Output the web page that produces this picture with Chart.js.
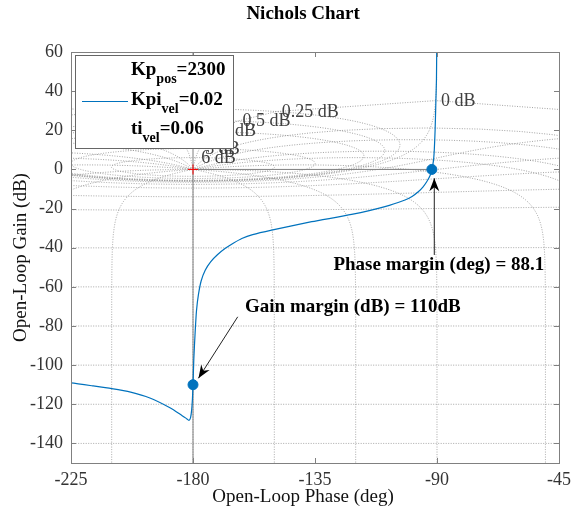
<!DOCTYPE html>
<html>
<head>
<meta charset="utf-8">
<title>Nichols Chart</title>
<script src="https://cdn.jsdelivr.net/npm/chart.js@4.4.0/dist/chart.umd.min.js"></script>
<style>
  html, body { margin: 0; padding: 0; background: #fff; }
</style>
</head>
<body>
<canvas id="nichols" width="573" height="517"></canvas>
<script>
// open-loop response, from the top (low freq) to the left end
const phaseDeg = [-90.1, -90.2, -90.4, -90.7, -91.0, -91.3, -91.9, -92.5, -93.8, -95.2,
  -96.9, -99.2, -101.8, -109.2, -121.5, -136.2, -151.0, -158.0, -162.0, -165.0,
  -168.2, -171.0, -173.5, -175.5, -177.0, -178.0, -178.7, -179.2, -179.7, -180.0,
  -180.2, -180.5, -180.9, -181.5, -182.5, -184.0, -188.5, -195.9, -203.0, -210.0,
  -217.0, -225.0, -230.0];
const gainDb = [62, 46, 35.5, 20, 10, 4.5, 0, -3, -6.3, -9,
  -11.4, -13.8, -15.6, -19.0, -23.0, -26.7, -31.0, -33.3, -35.3, -37.6,
  -40.4, -43.6, -47.2, -51.5, -57, -64, -72, -83, -97, -110,
  -117, -123, -126.8, -128.2, -127.2, -125.8, -121.8, -116.8, -113.8, -112,
  -110.6, -109.1, -108.5];

// stability margin markers
const marginPhase = [-180, -91.9];
const marginGain = [-110, 0];

const xTicks = [-225, -180, -135, -90, -45];
const yTicks = [-140, -120, -100, -80, -60, -40, -20, 0, 20, 40, 60];

// nichols grid (closed-loop gain in dB, closed-loop phase in deg)
const gridGainDb = [6, 3, 1, 0.5, 0.25, 0, -1, -3, -6, -12, -20, -40, -60, -80, -100, -120, -140, -160];
const gridPhaseDeg = [-1, -5, -10, -20, -30, -50, -90, -120, -150, -180, -210, -240, -270, -310, -330, -340, -350, -355, -359];
const gridLabels = ["6 dB", "3 dB", "1 dB", "0.5 dB", "0.25 dB", "0 dB"];
const gridLabelPhase = [-177.0, -175.5, -169.5, -161.7, -147.3, -88.5];
const gridLabelGain = [5.6, 10.5, 19.6, 24.7, 29.3, 34.7];

const legendRows = [["Kp", "pos", "=2300"], ["Kpi", "vel", "=0.02"], ["ti", "vel", "=0.06"]];

const SERIF = "'Liberation Serif', 'Times New Roman', serif";
const BLUE = "#0072BD";
const NB = "\u00A0";

function loopFromClosed(tr, ti) {
  // L = T / (1 - T)
  const dr = 1 - tr, di = -ti;
  const den = dr * dr + di * di;
  return [(tr * dr + ti * di) / den, (ti * dr - tr * di) / den];
}

function gainContour(db) {
  const m = Math.pow(10, db / 20);
  const pts = [];
  const n = 1440;
  for (let i = 1; i < n; i++) {
    const th = 2 * Math.PI * i / n;
    const [lr, li] = loopFromClosed(m * Math.cos(th), m * Math.sin(th));
    let ph = Math.atan2(li, lr) * 180 / Math.PI;
    if (ph > 0) ph -= 360;
    pts.push([ph, 20 * Math.log10(Math.hypot(lr, li))]);
  }
  return pts;
}

function phaseContour(deg) {
  const phi = deg * Math.PI / 180;
  const pts = [];
  let prev = deg;
  for (let k = -640; k <= 640; k++) {
    const r = Math.pow(10, k / 80);
    const [lr, li] = loopFromClosed(r * Math.cos(phi), r * Math.sin(phi));
    let ph = Math.atan2(li, lr) * 180 / Math.PI;
    while (ph - prev > 180) ph -= 360;
    while (ph - prev < -180) ph += 360;
    prev = ph;
    pts.push([ph, 20 * Math.log10(Math.hypot(lr, li))]);
  }
  return pts;
}

const nicholsGrid = {
  id: "nicholsGrid",
  beforeDatasetsDraw(chart) {
    const { ctx, chartArea: a, scales: { x, y } } = chart;
    ctx.save();
    ctx.beginPath();
    ctx.rect(a.left, a.top, a.right - a.left, a.bottom - a.top);
    ctx.clip();
    ctx.strokeStyle = "#8c8c8c";
    ctx.lineWidth = 0.8;
    ctx.setLineDash([1, 1.5]);
    const curves = gridGainDb.map(gainContour).concat(gridPhaseDeg.map(phaseContour));
    curves.forEach(pts => {
      ctx.beginPath();
      let pen = false;
      pts.forEach(([p, g]) => {
        if (!isFinite(g) || g > 300 || g < -300) { pen = false; return; }
        const px = x.getPixelForValue(p), py = y.getPixelForValue(g);
        if (pen) ctx.lineTo(px, py); else ctx.moveTo(px, py);
        pen = true;
      });
      ctx.stroke();
    });
    ctx.setLineDash([]);
    ctx.fillStyle = "#404040";
    ctx.font = "18px " + SERIF;
    ctx.textAlign = "left";
    ctx.textBaseline = "middle";
    gridLabels.forEach((t, i) => {
      ctx.fillText(t, x.getPixelForValue(gridLabelPhase[i]), y.getPixelForValue(gridLabelGain[i]));
    });
    ctx.restore();
  }
};

function arrow(ctx, x0, y0, x1, y1) {
  ctx.beginPath();
  ctx.moveTo(x0, y0);
  ctx.lineTo(x1, y1);
  ctx.stroke();
  const ang = Math.atan2(y1 - y0, x1 - x0);
  const len = 13, half = 5, notch = 4;
  ctx.save();
  ctx.translate(x1, y1);
  ctx.rotate(ang);
  ctx.beginPath();
  ctx.moveTo(0, 0);
  ctx.lineTo(-len, -half);
  ctx.lineTo(-len + notch, 0);
  ctx.lineTo(-len, half);
  ctx.closePath();
  ctx.fill();
  ctx.restore();
}

const frameAndNotes = {
  id: "frameAndNotes",
  afterDatasetsDraw(chart) {
    const { ctx, chartArea: a, scales: { x, y } } = chart;
    ctx.save();
    // box with inward ticks on all sides
    ctx.strokeStyle = "#808080";
    ctx.lineWidth = 1;
    ctx.strokeRect(Math.round(a.left) + 0.5, Math.round(a.top) + 0.5,
      Math.round(a.right - a.left), Math.round(a.bottom - a.top));
    ctx.beginPath();
    xTicks.forEach(v => {
      const px = Math.round(x.getPixelForValue(v)) + 0.5;
      ctx.moveTo(px, a.bottom); ctx.lineTo(px, a.bottom - 5);
      ctx.moveTo(px, a.top); ctx.lineTo(px, a.top + 5);
    });
    yTicks.forEach(v => {
      const py = Math.round(y.getPixelForValue(v)) + 0.5;
      ctx.moveTo(a.left, py); ctx.lineTo(a.left + 5, py);
      ctx.moveTo(a.right, py); ctx.lineTo(a.right - 5, py);
    });
    ctx.stroke();

    // margin annotations
    ctx.fillStyle = "#000";
    ctx.strokeStyle = "#222";
    ctx.lineWidth = 1;
    arrow(ctx, x.getPixelForValue(-163.5), y.getPixelForValue(-75.3),
      x.getPixelForValue(-178.0), y.getPixelForValue(-106.7));
    arrow(ctx, x.getPixelForValue(-91.0), y.getPixelForValue(-43.7),
      x.getPixelForValue(-91.0), y.getPixelForValue(-4.5));
    ctx.font = "bold 19px " + SERIF;
    ctx.textAlign = "left";
    ctx.textBaseline = "middle";
    ctx.fillText("Gain margin (dB) = 110dB", x.getPixelForValue(-160.8), y.getPixelForValue(-70.2));
    ctx.fillText("Phase margin (deg) = 88.1", x.getPixelForValue(-128.2), y.getPixelForValue(-48.9));

    // legend
    const bx = a.left + 4, by = a.top + 3, bw = 158, bh = 93;
    ctx.fillStyle = "#fff";
    ctx.fillRect(bx, by, bw, bh);
    ctx.strokeStyle = "#666";
    ctx.strokeRect(Math.round(bx) + 0.5, Math.round(by) + 0.5, bw, bh);
    ctx.strokeStyle = BLUE;
    ctx.beginPath();
    ctx.moveTo(bx + 7, by + 46.5);
    ctx.lineTo(bx + 53, by + 46.5);
    ctx.stroke();
    ctx.fillStyle = "#000";
    ctx.textBaseline = "alphabetic";
    legendRows.forEach((row, i) => {
      const base = by + 20 + i * 29.7;
      let tx = bx + 56;
      ctx.font = "bold 19px " + SERIF;
      ctx.fillText(row[0], tx, base);
      tx += ctx.measureText(row[0]).width;
      ctx.font = "bold 14px " + SERIF;
      ctx.fillText(row[1], tx, base + 8);
      tx += ctx.measureText(row[1]).width;
      ctx.font = "bold 19px " + SERIF;
      ctx.fillText(row[2], tx, base);
    });
    ctx.restore();
  }
};

const curvePoints = phaseDeg.map((p, i) => ({ x: p, y: gainDb[i] }));
const marginPoints = marginPhase.map((p, i) => ({ x: p, y: marginGain[i] }));

new Chart(document.getElementById("nichols"), {
  type: "scatter",
  data: {
    datasets: [
      {
        label: "margins",
        data: marginPoints,
        pointRadius: 5,
        pointBackgroundColor: BLUE,
        pointBorderColor: BLUE,
        order: 0
      },
      {
        label: "critical point",
        data: [{ x: -180, y: 0 }],
        pointStyle: "cross",
        pointRadius: 5,
        pointBorderColor: "#ff0000",
        pointBorderWidth: 1,
        order: 1
      },
      {
        label: "L(jw)",
        data: curvePoints,
        showLine: true,
        borderColor: BLUE,
        borderWidth: 1.2,
        pointRadius: 0,
        tension: 0.2,
        order: 2
      },
      {
        label: "gm line",
        data: [{ x: -180, y: -150 }, { x: -180, y: 60 }],
        showLine: true,
        borderColor: "#7f7f7f",
        borderWidth: 1,
        pointRadius: 0,
        order: 3
      },
      {
        label: "pm line",
        data: [{ x: -180, y: 0 }, { x: marginPhase[1], y: 0 }],
        showLine: true,
        borderColor: "#7f7f7f",
        borderWidth: 1,
        pointRadius: 0,
        order: 3
      }
    ]
  },
  options: {
    responsive: false,
    animation: false,
    devicePixelRatio: 1,
    layout: { padding: { left: 0, right: 14, top: 0, bottom: 0 } },
    plugins: {
      legend: { display: false },
      tooltip: { enabled: false },
      title: {
        display: true,
        fullSize: false,
        text: "Nichols Chart" + NB.repeat(5),
        color: "#000",
        font: { family: SERIF, size: 19, weight: "bold" },
        padding: { top: 3, bottom: 26.2 }
      }
    },
    scales: {
      x: {
        type: "linear",
        min: -225,
        max: -45,
        afterBuildTicks: s => { s.ticks = xTicks.map(v => ({ value: v })); },
        afterFit: s => { s.height = 54; s.paddingLeft = 0; s.paddingRight = 0; },
        grid: { display: false },
        border: { display: false },
        ticks: {
          color: "#333",
          padding: -2,
          maxRotation: 0,
          font: { family: SERIF, size: 18 },
          callback: v => String(v)
        },
        title: {
          display: true,
          text: "Open-Loop Phase (deg)" + NB.repeat(5),
          color: "#111",
          font: { family: SERIF, size: 19 },
          padding: { top: 0, bottom: 9 }
        }
      },
      y: {
        type: "linear",
        min: -150,
        max: 60,
        afterBuildTicks: s => { s.ticks = yTicks.map(v => ({ value: v })); },
        afterFit: s => { s.width = 71; },
        grid: { display: false },
        border: { display: false },
        ticks: {
          color: "#333",
          padding: 0,
          font: { family: SERIF, size: 18 },
          callback: v => String(v)
        },
        title: {
          display: true,
          text: "Open-Loop Gain (dB)",
          color: "#111",
          font: { family: SERIF, size: 19 },
          padding: { top: 10, bottom: 0 }
        }
      }
    }
  },
  plugins: [nicholsGrid, frameAndNotes]
});
</script>
</body>
</html>
